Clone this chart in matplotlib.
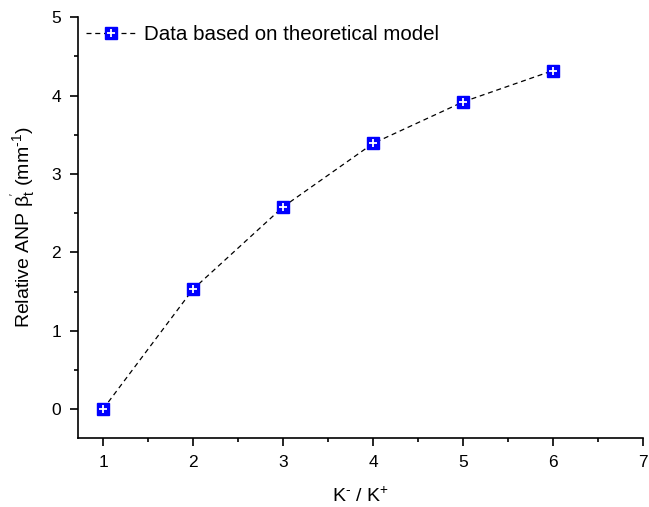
import matplotlib
matplotlib.use('Agg')
import matplotlib.pyplot as plt
from matplotlib.ticker import MultipleLocator
from matplotlib.legend_handler import HandlerTuple

plt.rcParams['font.family'] = ['Liberation Sans', 'DejaVu Sans']
plt.rcParams['mathtext.fontset'] = 'custom'
plt.rcParams['mathtext.rm'] = 'Liberation Sans'
plt.rcParams['mathtext.it'] = 'Liberation Sans'

# K- / K+ ratio and relative ANP
ratio = [1, 2, 3, 4, 5, 6]
anp = [0.0, 1.53, 2.58, 3.39, 3.92, 4.32]

fig = plt.figure(figsize=(6.49, 5.07), dpi=100)
ax = fig.add_axes([0.120, 0.136, 0.871, 0.830])

line, = ax.plot(ratio, anp, color='black', linestyle=(0, (4, 3)), linewidth=0.9,
                marker='s', markersize=8, markerfacecolor='#0000ff',
                markeredgecolor='#0000ff')
# white cross inside the squares
cross, = ax.plot(ratio, anp, linestyle='none', marker='+', markersize=6,
                 markeredgecolor='white', markeredgewidth=1.3)

ax.set_xlim(0.72, 7)
ax.set_ylim(-0.37, 5)
ax.xaxis.set_major_locator(MultipleLocator(1))
ax.xaxis.set_minor_locator(MultipleLocator(0.5))
ax.yaxis.set_major_locator(MultipleLocator(1))
ax.yaxis.set_minor_locator(MultipleLocator(0.5))
ax.spines['top'].set_visible(False)
ax.spines['right'].set_visible(False)
for s in ['left', 'bottom']:
    ax.spines[s].set_linewidth(1.2)
ax.tick_params(which='major', direction='out', length=6, width=1.2,
               labelsize=12.5, pad=6)
ax.tick_params(which='minor', direction='out', length=3, width=1.2)

ax.set_xlabel(r'K$^{\text{-}}$ / K$^{+}$', fontsize=14, labelpad=12)
ax.set_ylabel(r"Relative ANP β$_{t}^{'}$ (mm$^{\text{-}1}$)", fontsize=14, labelpad=9)

ax.legend([(line, cross)], ['Data based on theoretical model'],
          handler_map={tuple: HandlerTuple(ndivide=1, pad=0)},
          loc='upper left', frameon=False, fontsize=14.8, handlelength=2.4,
          borderaxespad=0.1, handletextpad=0.4, borderpad=0.3)

plt.savefig('out.png', dpi=100)
plt.close()
